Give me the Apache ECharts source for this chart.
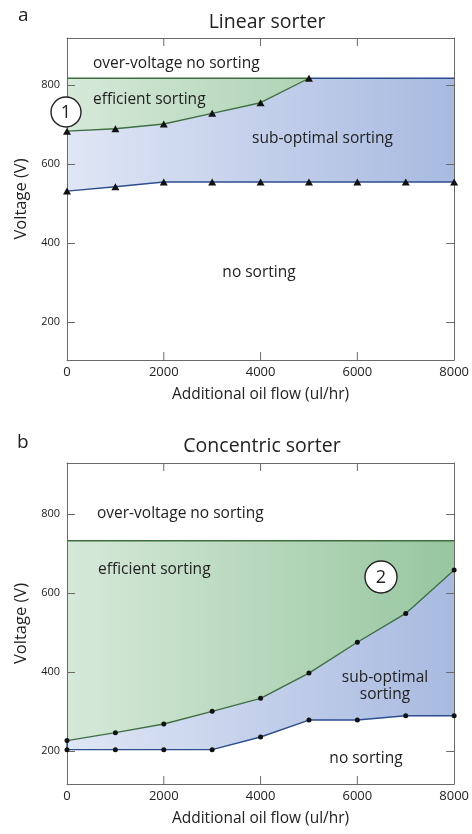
<!DOCTYPE html>
<html><head><meta charset="utf-8">
<script src="https://cdn.jsdelivr.net/npm/echarts@6/dist/echarts.min.js"></script>
<style>html,body{margin:0;padding:0;background:#fff}#c{width:472px;height:834px}</style>
</head><body><div id="c"></div>
<script>
// ---- data ----
const flow = [0, 1000, 2000, 3000, 4000, 5000, 6000, 7000, 8000];
const linearLower = [532, 543, 555, 555, 555, 555, 555, 555, 555];
const linearUpper = [684, 690, 702, 729, 756, 818];   // triangles 0..5000
const linearTop = 818;
const concLower = [203, 203, 203, 203, 235, 278, 278, 289, 289];
const concUpper = [226, 246, 268, 300, 333, 397, 475, 548, 658];
const concTop = 732;
const yTicks = [200, 400, 600, 800];
const xTicks = [0, 2000, 4000, 6000, 8000];
const xInnerTicks = [2000, 4000, 6000];

const FONT = '"Open Sans", "Noto Sans", sans-serif';
const chart = echarts.init(document.getElementById('c'));
const green = () => new echarts.graphic.LinearGradient(0, 0, 1, 0, [{offset: 0, color: '#d6e9d9'}, {offset: 1, color: '#97c69f'}]);
const blue = () => new echarts.graphic.LinearGradient(0, 0, 1, 0, [{offset: 0, color: '#dfe6f5'}, {offset: 1, color: '#a8bae0'}]);
const GL = '#3f6f41', BL = '#2c4d8e', AX = '#6a6a6a';
const yRanges = [[104, 920], [116, 929]];

function pairs(xs, ys) { return ys.map((v, i) => [xs[i], v]); }

function axesFor(gi, ymin, ymax) {
  const xa = [
    {gridIndex: gi, type: 'value', min: 0, max: 8000, position: 'bottom',
     name: 'Additional oil flow (ul/hr)', nameLocation: 'middle', nameGap: 27,
     nameTextStyle: {fontFamily: FONT, fontSize: 15.5, color: '#222'},
     axisLine: {show: true, onZero: false, lineStyle: {color: AX}},
     axisTick: {show: false},
     axisLabel: {fontFamily: FONT, fontSize: 13, color: '#222', margin: 6, customValues: xTicks, formatter: v => String(v)},
     splitLine: {show: false}},
    {gridIndex: gi, type: 'value', min: 0, max: 8000, position: 'top',
     axisLine: {show: true, onZero: false, lineStyle: {color: AX}},
     axisTick: {show: false},
     axisLabel: {show: false}, splitLine: {show: false}}
  ];
  const ya = [
    {gridIndex: gi, type: 'value', min: ymin, max: ymax, position: 'left',
     name: 'Voltage (V)', nameLocation: 'middle', nameGap: 36,
     nameTextStyle: {fontFamily: FONT, fontSize: 16.5, color: '#222'},
     axisLine: {show: true, onZero: false, lineStyle: {color: AX}},
     axisTick: {show: true, inside: true, length: 8, customValues: yTicks, lineStyle: {color: AX}},
     axisLabel: {fontFamily: FONT, fontSize: 11, color: '#222', margin: 7, customValues: yTicks},
     splitLine: {show: false}},
    {gridIndex: gi, type: 'value', min: ymin, max: ymax, position: 'right',
     axisLine: {show: true, onZero: false, lineStyle: {color: AX}},
     axisTick: {show: true, inside: true, length: 8, customValues: yTicks, lineStyle: {color: AX}},
     axisLabel: {show: false, customValues: yTicks}, splitLine: {show: false}}
  ];
  return {xa, ya};
}

const a0 = axesFor(0, yRanges[0][0], yRanges[0][1]), a1 = axesFor(1, yRanges[1][0], yRanges[1][1]);

// layered areas: green (top -> bottom), blue (upper -> bottom), white (lower -> bottom)
function areaSeries(gi, lower, upperFull, top) {
  const base = {type: 'line', xAxisIndex: gi * 2, yAxisIndex: gi * 2, symbol: 'none',
                lineStyle: {width: 0, opacity: 0}, silent: true};
  return [
    Object.assign({}, base, {z: -3, data: pairs(flow, flow.map(() => top)), areaStyle: {color: green(), opacity: 1, origin: 'start'}}),
    Object.assign({}, base, {z: -2, data: pairs(flow, upperFull), areaStyle: {color: blue(), opacity: 1, origin: 'start'}}),
    Object.assign({}, base, {z: -1, data: pairs(flow, lower), areaStyle: {color: '#ffffff', opacity: 1, origin: 'start'}})
  ];
}
function lineS(gi, data, color, sym, size) {
  return {type: 'line', xAxisIndex: gi * 2, yAxisIndex: gi * 2, data: data,
          symbol: sym || 'none', symbolSize: size || 6, showSymbol: !!sym,
          itemStyle: {color: '#111'}, lineStyle: {color: color, width: 1.4}, z: 5, silent: true};
}
// inward x ticks on top and bottom frame, placed through the axis scales
function xTickSeries(gi) {
  const r = yRanges[gi];
  return {type: 'custom', coordinateSystem: 'cartesian2d', xAxisIndex: gi * 2, yAxisIndex: gi * 2,
    data: xInnerTicks.map(v => [v]), silent: true, z: 10, clip: false,
    renderItem: function (params, api) {
      const b = api.coord([api.value(0), r[0]]);
      const t = api.coord([api.value(0), r[1]]);
      const st = {stroke: AX, lineWidth: 1};
      return {type: 'group', children: [
        {type: 'line', shape: {x1: b[0], y1: b[1], x2: b[0], y2: b[1] - 8}, style: st},
        {type: 'line', shape: {x1: t[0], y1: t[1], x2: t[0], y2: t[1] + 8}, style: st}
      ]};
    }};
}

const linUpperFull = flow.map((x, i) => i < linearUpper.length ? linearUpper[i] : linearTop);
const series = [].concat(
  areaSeries(0, linearLower, linUpperFull, linearTop),
  [lineS(0, pairs(flow, linearLower), BL, 'triangle', [8, 7]),
   lineS(0, pairs(flow, linearUpper), GL, 'triangle', [8, 7]),
   lineS(0, [[0, linearTop], [5000, linearTop]], GL),
   lineS(0, [[5000, linearTop], [8000, linearTop]], BL),
   xTickSeries(0)],
  areaSeries(1, concLower, concUpper, concTop),
  [lineS(1, pairs(flow, concLower), BL, 'circle', 5),
   lineS(1, pairs(flow, concUpper), GL, 'circle', 5),
   lineS(1, [[0, concTop], [8000, concTop]], GL),
   lineS(1, [[0, concLower[0]], [0, concUpper[0]]], BL),
   xTickSeries(1)]
);

function txt(t, x, y, size, align) {
  return {type: 'text', x: x, y: y, z: 20, silent: true,
          style: {text: t, font: size + 'px ' + FONT, fill: '#222', textAlign: align || 'left', textVerticalAlign: 'middle'}};
}
function circ(n, cx, cy, r) {
  return [{type: 'circle', shape: {cx: cx, cy: cy, r: r}, z: 20, silent: true,
           style: {fill: '#fff', stroke: '#222', lineWidth: 1.4}},
          {type: 'text', x: cx, y: cy + 1, z: 21, silent: true,
           style: {text: n, font: '18px ' + FONT, fill: '#222', textAlign: 'center', textVerticalAlign: 'middle'}}];
}

chart.setOption({
  animation: false,
  grid: [{left: 67, right: 17, top: 38, height: 322}, {left: 67, right: 17, top: 463, height: 321}],
  xAxis: a0.xa.concat(a1.xa),
  yAxis: a0.ya.concat(a1.ya),
  series: series,
  graphic: [
    txt('a', 18, 16, 19), txt('Linear sorter', 267, 22, 19.5, 'center'),
    txt('b', 17, 443, 19), txt('Concentric sorter', 262, 446, 19.5, 'center'),
    txt('over-voltage no sorting', 93, 64, 15.5), txt('efficient sorting', 93, 100, 15.5),
    txt('sub-optimal sorting', 252, 139, 15.5), txt('no sorting', 259, 273, 15.5, 'center'),
    txt('over-voltage no sorting', 97, 514, 15.5), txt('efficient sorting', 98, 570, 15.5),
    txt('sub-optimal', 385, 678, 15.5, 'center'), txt('sorting', 385, 695, 15.5, 'center'),
    txt('no sorting', 366, 759, 15.5, 'center')
  ].concat(circ('1', 66, 112, 15), circ('2', 381, 577, 16))
});
</script></body></html>
